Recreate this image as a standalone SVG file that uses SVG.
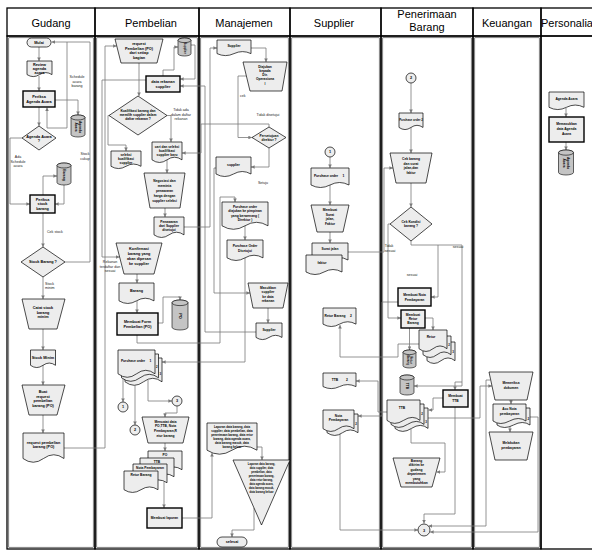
<svg xmlns="http://www.w3.org/2000/svg" width="592" height="555" viewBox="0 0 592 555">
<defs>
<marker id="a" viewBox="0 0 6 6" refX="6" refY="3" markerWidth="3.6" markerHeight="3.6" markerUnits="userSpaceOnUse" orient="auto"><path d="M0,0L6,3L0,6z" fill="#7a7a7a"/></marker>
<style>
.lane{fill:none;stroke:#000;stroke-width:1.3}
.inner{fill:none;stroke:#000;stroke-width:0.5}
.h{font-family:"Liberation Sans",Arial,sans-serif;font-size:11px;text-anchor:middle;fill:#000}
.n{fill:#ededed;stroke:#000;stroke-width:0.7}
.p{fill:#ededed;stroke:#000;stroke-width:1.4}
.db{fill:#c4c4c4;stroke:#000;stroke-width:0.6}
.t{font-family:"Liberation Sans",Arial,sans-serif;font-weight:bold;font-size:3.8px;text-anchor:middle;fill:#000}
.s{font-size:3.3px}
.xs{font-size:2.9px}
.l{font-family:"Liberation Sans",Arial,sans-serif;font-size:3.6px;text-anchor:middle;fill:#222}
.c{fill:none;stroke:#7a7a7a;stroke-width:0.8;marker-end:url(#a)}
.cn{fill:none;stroke:#7a7a7a;stroke-width:0.8}
</style>
</defs>
<rect width="592" height="555" fill="#fff"/>
<g id="lanes">
<rect class="lane" x="7" y="8" width="88" height="28"/><rect class="lane" x="7" y="36" width="88" height="513"/><rect class="inner" x="8.8" y="37.8" width="84.4" height="509.4"/>
<rect class="lane" x="95" y="8" width="104" height="28"/><rect class="lane" x="95" y="36" width="104" height="513"/><rect class="inner" x="96.8" y="37.8" width="100.4" height="509.4"/>
<rect class="lane" x="199" y="8" width="91" height="28"/><rect class="lane" x="199" y="36" width="91" height="513"/><rect class="inner" x="200.8" y="37.8" width="87.4" height="509.4"/>
<rect class="lane" x="290" y="8" width="91" height="28"/><rect class="lane" x="290" y="36" width="91" height="513"/><rect class="inner" x="291.8" y="37.8" width="87.4" height="509.4"/>
<rect class="lane" x="381" y="8" width="92" height="28"/><rect class="lane" x="381" y="36" width="92" height="513"/><rect class="inner" x="382.8" y="37.8" width="88.4" height="509.4"/>
<rect class="lane" x="473" y="8" width="68" height="28"/><rect class="lane" x="473" y="36" width="68" height="513"/><rect class="inner" x="474.8" y="37.8" width="64.4" height="509.4"/>
<rect class="lane" x="541" y="8" width="60" height="28"/><rect class="lane" x="541" y="36" width="60" height="513"/>
<text class="h" x="51" y="27">Gudang</text>
<text class="h" x="151" y="27">Pembelian</text>
<text class="h" x="244" y="27">Manajemen</text>
<text class="h" x="334" y="27">Supplier</text>
<text class="h"><tspan x="427" y="18">Penerimaan</tspan><tspan x="427" y="31">Barang</tspan></text>
<text class="h" x="507" y="27">Keuangan</text>
<text class="h" x="567" y="27">Personalia</text>
</g>
<g id="connectors">
<path class="c" d="M39,47V61"/>
<path class="c" d="M39,76V91"/>
<path class="c" d="M55,100H78V115"/>
<path class="c" d="M39,107V126"/>
<path class="c" d="M22,138H10V204H30"/>
<path class="cn" d="M47,128H67V42"/>
<path class="c" d="M47,128V107.5"/>
<path class="c" d="M65,262H90V42H51.5"/>
<path class="c" d="M43,195V176H57"/>
<path class="c" d="M64,185V204H55"/>
<path class="c" d="M43,213V247"/>
<path class="c" d="M43,277V299"/>
<path class="c" d="M43,329V350"/>
<path class="c" d="M43,365V385"/>
<path class="c" d="M43,415V433"/>
<path class="c" d="M64,448H105V46H116.7"/>
<path class="c" d="M139,63V96"/>
<path class="c" d="M163,76V70H174V47H178"/>
<path class="c" d="M191,45H195V79H180"/>
<path class="c" d="M146,80H102V257H119.5"/>
<path class="c" d="M109,115.5H108V145H126V151"/>
<path class="c" d="M167,115.5H171V142"/>
<path class="c" d="M167,160V173"/>
<path class="c" d="M269,127V124H201V153H182"/>
<path class="c" d="M165,208V217"/>
<path class="c" d="M184,227H210V48H217"/>
<path class="c" d="M251,48H266V62"/>
<path class="c" d="M246.4,76H238V137.5H252"/>
<path class="c" d="M269,148V167H251"/>
<path class="c" d="M216,168H214V293H250"/>
<path class="c" d="M268,308V323"/>
<path class="c" d="M256,332H205V86H180"/>
<path class="c" d="M137,335V343H220V197H235V202"/>
<path class="c" d="M245,226V240"/>
<path class="c" d="M245,258V362H162"/>
<path class="c" d="M158,323H163V297H180V300"/>
<path class="c" d="M137,274V283"/>
<path class="c" d="M137,301V313"/>
<path class="c" d="M123,379V402"/>
<path class="c" d="M135,385.5V425"/>
<path class="c" d="M148,380V401H172"/>
<path class="c" d="M177,406V413H165V417"/>
<path class="c" d="M165,443V451"/>
<path class="c" d="M164,482V508"/>
<path class="c" d="M182,518H212V453"/>
<path class="c" d="M257,447H262V460"/>
<path class="c" d="M254,508V530H232V537"/>
<path class="c" d="M330,157V168"/>
<path class="c" d="M330,185V205"/>
<path class="c" d="M330,232V243"/>
<path class="c" d="M348,252H384V168H393"/>
<path class="c" d="M411,83V113"/>
<path class="c" d="M411,127.5V153"/>
<path class="c" d="M411,183V207"/>
<path class="c" d="M390,224H388V318H401"/>
<path class="c" d="M411,241V245H462V386H414"/>
<path class="c" d="M462,382H455V390"/>
<path class="c" d="M438,245V297H431"/>
<path class="c" d="M425,318H433V330"/>
<path class="c" d="M409.5,328V350"/>
<path class="c" d="M398,302H382V416H358"/>
<path class="c" d="M419,344H398V357H340V325"/>
<path class="c" d="M387,412H378V381H356"/>
<path class="c" d="M443,398H433V410H428.5"/>
<path class="c" d="M428,418H480V386H492"/>
<path class="c" d="M411,429V443H445V472H436.5"/>
<path class="c" d="M455,407V514H424V523.5"/>
<path class="c" d="M340,434V530H418"/>
<path class="c" d="M511,400V404"/>
<path class="c" d="M510,422V432"/>
<path class="c" d="M530,417H538V532H430"/>
<path class="c" d="M490.5,380H486V526H428.5"/>
<path class="c" d="M566,108V117"/>
<path class="c" d="M566,142V150"/>
</g>
<g id="labels">
<text class="l"><tspan x="77" y="78">Schedule</tspan><tspan x="77" y="82.5">acara</tspan><tspan x="77" y="87">barang</tspan></text>
<text class="l"><tspan x="18" y="158">Ada</tspan><tspan x="18" y="162.5">Schedule</tspan><tspan x="18" y="167">acara</tspan></text>
<text class="l"><tspan x="85" y="155">Stock</tspan><tspan x="85" y="159.5">cukup</tspan></text>
<text class="l" x="47" y="233" style="text-anchor:start">Cek stock</text>
<text class="l" style="text-anchor:start"><tspan x="45" y="284.5">Stock</tspan><tspan x="45" y="289">minim</tspan></text>
<text class="l"><tspan x="181" y="111">Tidak ada</tspan><tspan x="181" y="115.5">dalam daftar</tspan><tspan x="181" y="120">rekanan</tspan></text>
<text class="l"><tspan x="110" y="263">Rekanan</tspan><tspan x="110" y="267.5">terdaftar dan</tspan><tspan x="110" y="272">sesuai</tspan></text>
<text class="l" x="240" y="97" style="text-anchor:start">cek</text>
<text class="l" x="268" y="116">Tidak disetujui</text>
<text class="l" x="263" y="184">Setuju</text>
<text class="l"><tspan x="389" y="247">Tidak</tspan><tspan x="390" y="251.5">sesuai</tspan></text>
<text class="l" x="458" y="248">sesuai</text>
<text class="l" x="412" y="276">sesuai</text>
</g>
<g id="g-mulai"><rect class="n" x="27" y="38" width="24" height="9" rx="4.5"/><text class="t" x="39" y="43.8">Mulai</text></g>
<g id="g-review"><path class="n" d="M27,61H52V74.6Q45.75,70.6 39.5,74.6T27,74.6Z"/><text class="t"><tspan x="39.5" y="65.5">Review</tspan><tspan x="39.5" y="69.5">agenda</tspan><tspan x="39.5" y="73.5">acara</tspan></text></g>
<g id="g-periksa-agenda"><rect class="p" x="23" y="91" width="32" height="16"/><text class="t"><tspan x="39" y="98">Periksa</tspan><tspan x="39" y="102.5">Agenda Acara</tspan></text></g>
<g id="g-db-agenda"><path class="db" d="M71,117.5V134.5A7,2.5 0 0 0 85,134.5V117.5A7,2.5 0 0 0 71,117.5Z"/><ellipse class="db" cx="78" cy="117.5" rx="7" ry="2.5"/><text class="t s" transform="rotate(90 78 127)"><tspan x="78" y="126">Agenda</tspan><tspan x="78" y="129.8">Acara</tspan></text></g>
<g id="g-decision-agenda"><path class="n" d="M39,126L56,138L39,150L22,138Z"/><text class="t"><tspan x="39" y="137.5">Agenda Acara</tspan><tspan x="39" y="142">?</tspan></text></g>
<g id="g-db-barang"><path class="db" d="M57,165.5V182.5A7,2.5 0 0 0 71,182.5V165.5A7,2.5 0 0 0 57,165.5Z"/><ellipse class="db" cx="64" cy="165.5" rx="7" ry="2.5"/><text class="t s" transform="rotate(90 64 175)" x="64" y="176.2">Barang</text></g>
<g id="g-periksa-stock"><rect class="p" x="30" y="195" width="25" height="18"/><text class="t"><tspan x="42.5" y="200.5">Periksa</tspan><tspan x="42.5" y="205">stock</tspan><tspan x="42.5" y="209.5">barang</tspan></text></g>
<g id="g-decision-stock"><path class="n" d="M43,247L65,262L43,277L21,262Z"/><text class="t" x="43" y="263.3">Stock Barang ?</text></g>
<g id="g-catat"><path class="n" d="M22,299H65L57,329H29Z"/><text class="t"><tspan x="43" y="309">Catat  stock</tspan><tspan x="43" y="313.5">barang</tspan><tspan x="43" y="318">minim</tspan></text></g>
<g id="g-stock-minim"><path class="n" d="M30.5,350H55.5V365.3Q49.25,360.8 43,365.3T30.5,365.3Z"/><text class="t" x="43" y="358.5">Stock Minim</text></g>
<g id="g-buat-request"><path class="n" d="M22,385H65L57,415H29Z"/><text class="t"><tspan x="43" y="393">Buat</tspan><tspan x="43" y="397.5">request</tspan><tspan x="43" y="402">pembelian</tspan><tspan x="43" y="406.5">barang (PO)</tspan></text></g>
<g id="g-request-doc"><path class="n" d="M23,433H64V458.5Q53.75,451 43.5,458.5T23,458.5Z"/><text class="t"><tspan x="43.5" y="443.5">request pembelian</tspan><tspan x="43.5" y="448">barang (PO)</tspan></text></g>
<g id="p-request"><path class="n" d="M115,39H163L157,63H121Z"/><text class="t"><tspan x="139" y="45">request</tspan><tspan x="139" y="49.5">Pembelian (PO)</tspan><tspan x="139" y="54">dari setiap</tspan><tspan x="139" y="58.5">bagian</tspan></text></g>
<g id="p-db-supplier"><path class="db" d="M178,40.3V53.7A6.5,2.3 0 0 0 191,53.7V40.3A6.5,2.3 0 0 0 178,40.3Z"/><ellipse class="db" cx="184.5" cy="40.3" rx="6.5" ry="2.3"/><text class="t xs" transform="rotate(90 184.5 48)" x="184.5" y="49">Supplier</text></g>
<g id="p-data-rekanan"><rect class="p" x="146" y="76" width="34" height="16"/><text class="t"><tspan x="163" y="83">data rekanan</tspan><tspan x="163" y="87.5">supplier</tspan></text></g>
<g id="p-kualifikasi"><path class="n" d="M138,96L167,115.5L138,135L109,115.5Z"/><text class="t s"><tspan x="138" y="111.5">Kualifikasi barang dan</tspan><tspan x="138" y="115.8">memilih supplier dalam</tspan><tspan x="138" y="120.1">daftar rekanan ?</tspan></text></g>
<g id="p-cari"><path class="n" d="M152,142H182V159.85Q174.5,154.6 167,159.85T152,159.85Z"/><text class="t s"><tspan x="167" y="147.5">cari dan seleksi</tspan><tspan x="167" y="151.5">kualifikasi</tspan><tspan x="167" y="155.5">supplier baru</tspan></text></g>
<g id="p-seleksi"><path class="n" d="M111,151H141V166.3Q133.5,161.8 126,166.3T111,166.3Z"/><text class="t s"><tspan x="126" y="156">seleksi</tspan><tspan x="126" y="160">kualifikasi</tspan><tspan x="126" y="164">supplier</tspan></text></g>
<g id="p-negosiasi"><path class="n" d="M144,173H185L180,208H150Z"/><text class="t s"><tspan x="164.5" y="181.5">Negosiasi dan</tspan><tspan x="164.5" y="186.5">meminta</tspan><tspan x="164.5" y="191.5">penawaran</tspan><tspan x="164.5" y="196.5">harga dengan</tspan><tspan x="164.5" y="201.5">supplier seleksi</tspan></text></g>
<g id="p-penawaran"><path class="n" d="M154,217H184V234.85Q176.5,229.6 169,234.85T154,234.85Z"/><text class="t s"><tspan x="169" y="222.5">Penawaran</tspan><tspan x="169" y="226.5">dari Supplier</tspan><tspan x="169" y="230.5">disetujui</tspan></text></g>
<g id="p-konfirmasi"><path class="n" d="M116,243H162L154,274H124Z"/><text class="t"><tspan x="139" y="250">Konfirmasi</tspan><tspan x="139" y="255">barang yang</tspan><tspan x="139" y="260">akan dipesan</tspan><tspan x="139" y="265">ke supplier</tspan></text></g>
<g id="p-barang"><path class="n" d="M119,283H154V300.85Q145.25,295.6 136.5,300.85T119,300.85Z"/><text class="t" x="136.5" y="292">Barang</text></g>
<g id="p-db-po"><path class="db" d="M172,302.8V327.2A8,2.8 0 0 0 188,327.2V302.8A8,2.8 0 0 0 172,302.8Z"/><ellipse class="db" cx="180" cy="302.8" rx="8" ry="2.8"/><text class="t" transform="rotate(90 180 316)" x="180" y="317.4">PO</text></g>
<g id="p-form"><rect class="p" x="117" y="313" width="41" height="22"/><text class="t"><tspan x="137.5" y="322.5">Membuat Form</tspan><tspan x="137.5" y="327.5">Pembelian (PO)</tspan></text></g>
<g id="p-po-multi"><path class="n" d="M125,358H162V381.8Q152.75,374.8 143.5,381.8T125,381.8Z"/><path class="n" d="M121.5,354H158.5V377.8Q149.25,370.8 140,377.8T121.5,377.8Z"/><path class="n" d="M118,350H155V373.8Q145.75,366.8 136.5,373.8T118,373.8Z"/><text class="t s" x="133" y="362">Purchase order</text><text class="t s" x="150.5" y="362">1</text><text class="t xs" x="156.8" y="368">2</text><text class="t xs" x="160.3" y="375">3</text></g>
<g id="p-c1"><circle class="n" cx="123" cy="407" r="5"/><text class="t" x="123" y="408.4">1</text></g>
<g id="p-c2"><circle class="n" cx="135" cy="430" r="5"/><text class="t" x="135" y="431.4">2</text></g>
<g id="p-c3"><circle class="n" cx="177" cy="401" r="5"/><text class="t" x="177" y="402.4">3</text></g>
<g id="p-mencatat"><path class="n" d="M142,417H189L183,443H148Z"/><text class="t s"><tspan x="165.5" y="422.5">Mencatat data</tspan><tspan x="165.5" y="427">PO,TTB, Nota</tspan><tspan x="165.5" y="432">Pembayaran,R</tspan><tspan x="165.5" y="437">etur barang</tspan></text></g>
<g id="p-stack"><path class="n" d="M148,451H182V469.7Q173.5,464.2 165,469.7T148,469.7Z"/><path class="n" d="M140,458H174V476.7Q165.5,471.2 157,476.7T140,476.7Z"/><path class="n" d="M133,464H167V482.7Q158.5,477.2 150,482.7T133,482.7Z"/><path class="n" d="M124,471H158V489.7Q149.5,484.2 141,489.7T124,489.7Z"/><text class="t s" x="165" y="456">PO</text><text class="t s" x="157" y="462.5">TTB</text><text class="t s" x="150" y="468.8">Nota Pembayaran</text><text class="t s" x="141" y="476">Retur Barang</text></g>
<g id="p-laporan"><rect class="p" x="147" y="508" width="35" height="20"/><text class="t s" x="164.5" y="519.3">Membuat laporan</text></g>
<g id="m-supplier-top"><path class="n" d="M217,40H251V53.6Q242.5,49.6 234,53.6T217,53.6Z"/><text class="t s" x="234" y="47">Supplier</text></g>
<g id="m-diajukan"><path class="n" d="M243,62H287L282,91H250Z"/><text class="t s"><tspan x="265" y="67.5">Diajukan</tspan><tspan x="265" y="71.8">kepada</tspan><tspan x="265" y="76.1">Dir.</tspan><tspan x="265" y="80.4">Operasiona</tspan><tspan x="265" y="84.7">l</tspan></text></g>
<g id="m-persetujuan"><path class="n" d="M269,127L286,137.5L269,148L252,137.5Z"/><text class="t s"><tspan x="269" y="136.5">Persetujuan</tspan><tspan x="269" y="140.5">direktur ?</tspan></text></g>
<g id="m-supplier-mid"><path class="n" d="M216,157H251V174Q242.25,169 233.5,174T216,174Z"/><text class="t s" x="233.5" y="166">supplier</text></g>
<g id="m-po-diajukan"><path class="n" d="M222,202H268V225.8Q256.5,218.8 245,225.8T222,225.8Z"/><text class="t s"><tspan x="245" y="207.5">Purchase order</tspan><tspan x="245" y="212">diajukan ke pimpinan</tspan><tspan x="245" y="216.5">yang berwenang (</tspan><tspan x="245" y="221">Direktur )</tspan></text></g>
<g id="m-po-disetujui"><path class="n" d="M227,240H263V257.85Q254,252.6 245,257.85T227,257.85Z"/><text class="t s"><tspan x="245" y="247">Purchase Order</tspan><tspan x="245" y="251.5">Disetujui</tspan></text></g>
<g id="m-masukkan"><path class="n" d="M248,283H288L283,308H253Z"/><text class="t s"><tspan x="268" y="288.5">Masukkan</tspan><tspan x="268" y="293">supplier</tspan><tspan x="268" y="297.5">ke data</tspan><tspan x="268" y="302">rekanan</tspan></text></g>
<g id="m-supplier-low"><path class="n" d="M256,323H282V337.45Q275.5,333.2 269,337.45T256,337.45Z"/><text class="t s" x="269" y="331">Supplier</text></g>
<g id="m-laporan-doc"><path class="n" d="M207,423H257V450.2Q244.5,442.2 232,450.2T207,450.2Z"/><text class="t xs"><tspan x="232" y="427.5">Laporan data barang, data</tspan><tspan x="232" y="431.5">supplier, data pembelian, data</tspan><tspan x="232" y="435.5">penerimaan barang, data retur</tspan><tspan x="232" y="439.5">barang, data agenda acara,</tspan><tspan x="232" y="443.5">data barang masuk, data</tspan><tspan x="232" y="447.5">barang keluar</tspan></text></g>
<g id="m-arsip"><path class="n" d="M233,460H290L261.5,525Z"/><text class="t" style="font-size:2.7px"><tspan x="261.5" y="464.5">Laporan data barang,</tspan><tspan x="261.5" y="468.5">data supplier, data</tspan><tspan x="261.5" y="472.5">pembelian, data</tspan><tspan x="261.5" y="476.5">penerimaan barang,</tspan><tspan x="261.5" y="480.5">data retur barang,</tspan><tspan x="261.5" y="484.5">data agenda acara,</tspan><tspan x="261.5" y="488.5">data barang masuk,</tspan><tspan x="261.5" y="492.5">data barang keluar</tspan></text></g>
<g id="m-selesai"><rect class="n" x="217" y="537" width="30" height="10" rx="5"/><text class="t" x="232" y="543.3">selesai</text></g>
<g id="s-c1"><circle class="n" cx="330" cy="152" r="5"/><text class="t" x="330" y="153.4">1</text></g>
<g id="s-po1"><path class="n" d="M311,168H349V185Q339.5,180 330,185T311,185Z"/><text class="t s" x="326" y="177">Purchase order</text><text class="t s" x="343.5" y="177">1</text></g>
<g id="s-membuat"><path class="n" d="M311,205H349L343,232H317Z"/><text class="t s"><tspan x="330" y="211">Membuat</tspan><tspan x="330" y="215.5">Surat</tspan><tspan x="330" y="220">jalan,</tspan><tspan x="330" y="224.5">Faktur</tspan></text></g>
<g id="s-surat-jalan"><path class="n" d="M312,243H348V260Q339,255 330,260T312,260Z"/><text class="t s" x="330" y="250">Surat jalan</text></g>
<g id="s-faktur"><path class="n" d="M306,255H342V272Q333,267 324,272T306,272Z"/><text class="t s" x="322" y="264">faktur</text></g>
<g id="s-retur2"><path class="n" d="M323,308H356V324.15Q347.75,319.4 339.5,324.15T323,324.15Z"/><text class="t s" x="335" y="316.5">Retur Barang</text><text class="t s" x="351" y="316.5">2</text></g>
<g id="s-ttb2"><path class="n" d="M323,373H356V386.6Q347.75,382.6 339.5,386.6T323,386.6Z"/><text class="t s" x="335" y="381">TTB</text><text class="t s" x="347" y="381">2</text></g>
<g id="s-nota2"><path class="n" d="M327,414H358V432.7Q350.25,427.2 342.5,432.7T327,432.7Z"/><path class="n" d="M323,410H354V428.7Q346.25,423.2 338.5,428.7T323,428.7Z"/><text class="t s"><tspan x="338.5" y="416.5">Nota</tspan><tspan x="338.5" y="420.8">Pembayaran</tspan></text><text class="t xs" x="356" y="424.5">2</text></g>
<g id="r-c2"><circle class="n" cx="411" cy="78" r="5"/><text class="t" x="411" y="79.4">2</text></g>
<g id="r-po2"><path class="n" d="M399,113H423V127.45Q417,123.2 411,127.45T399,127.45Z"/><text class="t xs" x="411" y="121">Purchase order 2</text></g>
<g id="r-cek"><path class="n" d="M390,153H432L426,183H396Z"/><text class="t s"><tspan x="411" y="160">Cek barang</tspan><tspan x="411" y="164.5">dan surat</tspan><tspan x="411" y="169">jalan,dan</tspan><tspan x="411" y="173.5">faktur</tspan></text></g>
<g id="r-kondisi"><path class="n" d="M411,207L432,224L411,241L390,224Z"/><text class="t s"><tspan x="411" y="223">Cek Kondisi</tspan><tspan x="411" y="227.3">barang ?</tspan></text></g>
<g id="r-nota"><rect class="p" x="398" y="288" width="33" height="18"/><text class="t s"><tspan x="414.5" y="296">Membuat Nota</tspan><tspan x="414.5" y="300.5">Pembayaran</tspan></text></g>
<g id="r-retur"><rect class="p" x="401" y="310" width="24" height="18"/><text class="t s"><tspan x="413" y="315.5">Membuat</tspan><tspan x="413" y="319.8">Retur</tspan><tspan x="413" y="324.1">Barang</tspan></text></g>
<g id="r-db-retur"><path class="db" d="M403,352.3V365.7A6.5,2.3 0 0 0 416,365.7V352.3A6.5,2.3 0 0 0 403,352.3Z"/><ellipse class="db" cx="409.5" cy="352.3" rx="6.5" ry="2.3"/><text class="t xs" transform="rotate(90 409.5 360)"><tspan x="409.5" y="359.2">Retur</tspan><tspan x="409.5" y="362.5">Barang</tspan></text></g>
<g id="r-retur-multi"><path class="n" d="M427,342H455V360.7Q448,355.2 441,360.7T427,360.7Z"/><path class="n" d="M423,336H451V354.7Q444,349.2 437,354.7T423,354.7Z"/><path class="n" d="M419,330H447V348.7Q440,343.2 433,348.7T419,348.7Z"/><text class="t s" x="431" y="338">Retur</text><text class="t xs" x="449" y="346">2</text><text class="t xs" x="453" y="353">3</text></g>
<g id="r-db-ttb"><path class="db" d="M400,377.5V392.5A7,2.5 0 0 0 414,392.5V377.5A7,2.5 0 0 0 400,377.5Z"/><ellipse class="db" cx="407" cy="377.5" rx="7" ry="2.5"/><text class="t s" transform="rotate(90 407 386)" x="407" y="387.2">TTB</text></g>
<g id="r-membuat-ttb"><rect class="p" x="443" y="390" width="25" height="17"/><text class="t s"><tspan x="455.5" y="397">Membuat</tspan><tspan x="455.5" y="401.5">TTB</tspan></text></g>
<g id="r-ttb-multi"><path class="n" d="M395,408H428V428.4Q420.75,422.4 411.5,428.4T395,428.4Z"/><path class="n" d="M391,404H424V424.4Q416.75,418.4 407.5,424.4T391,424.4Z"/><path class="n" d="M387,400H420V420.4Q412.75,414.4 403.5,420.4T387,420.4Z"/><text class="t s" x="402" y="409">TTB</text><text class="t xs" x="422" y="415">2</text><text class="t xs" x="426" y="423">3</text></g>
<g id="r-dikirim"><path class="n" d="M393,458H440L432,487H401Z"/><text class="t s"><tspan x="416.5" y="461.5">Barang</tspan><tspan x="416.5" y="466">dikirim ke</tspan><tspan x="416.5" y="470.5">gudang</tspan><tspan x="416.5" y="475">departemen</tspan><tspan x="416.5" y="479.5">yang</tspan><tspan x="416.5" y="484">membutuhkan</tspan></text></g>
<g id="r-c3"><circle class="n" cx="424" cy="530" r="6"/><text class="t" x="424" y="531.5">3</text></g>
<g id="k-memeriksa"><path class="n" d="M489,372H533L527,400H495Z"/><text class="t s"><tspan x="511" y="384">Memeriksa</tspan><tspan x="511" y="388.5">dokumen</tspan></text></g>
<g id="k-acc"><path class="n" d="M497,408H530V425Q522.75,420 513.5,425T497,425Z"/><path class="n" d="M493,404H526V421Q518.75,416 509.5,421T493,421Z"/><text class="t s"><tspan x="509.5" y="410">Acc Nota</tspan><tspan x="509.5" y="414.5">pembayaran</tspan></text><text class="t xs" x="528.2" y="420">2</text></g>
<g id="k-melakukan"><path class="n" d="M489,432H533L527,460H495Z"/><text class="t s"><tspan x="511" y="444">Melakukan</tspan><tspan x="511" y="448.5">pembayaran</tspan></text></g>
<g id="pe-agenda"><path class="n" d="M549,92H584V107.3Q575.25,102.8 566.5,107.3T549,107.3Z"/><text class="t s" x="566.5" y="100">Agenda Acara</text></g>
<g id="pe-memasukkan"><rect class="p" x="549" y="117" width="35" height="25"/><text class="t s"><tspan x="566.5" y="124.5">Memasukkan</tspan><tspan x="566.5" y="129.5">data Agenda</tspan><tspan x="566.5" y="134.5">Acara</tspan></text></g>
<g id="pe-db-agenda"><path class="db" d="M558.5,152.6V172.4A7.5,2.6 0 0 0 573.5,172.4V152.6A7.5,2.6 0 0 0 558.5,152.6Z"/><ellipse class="db" cx="566" cy="152.6" rx="7.5" ry="2.6"/><text class="t s" transform="rotate(90 566 163)"><tspan x="566" y="162">Agenda</tspan><tspan x="566" y="165.8">Acara</tspan></text></g>
</svg>
